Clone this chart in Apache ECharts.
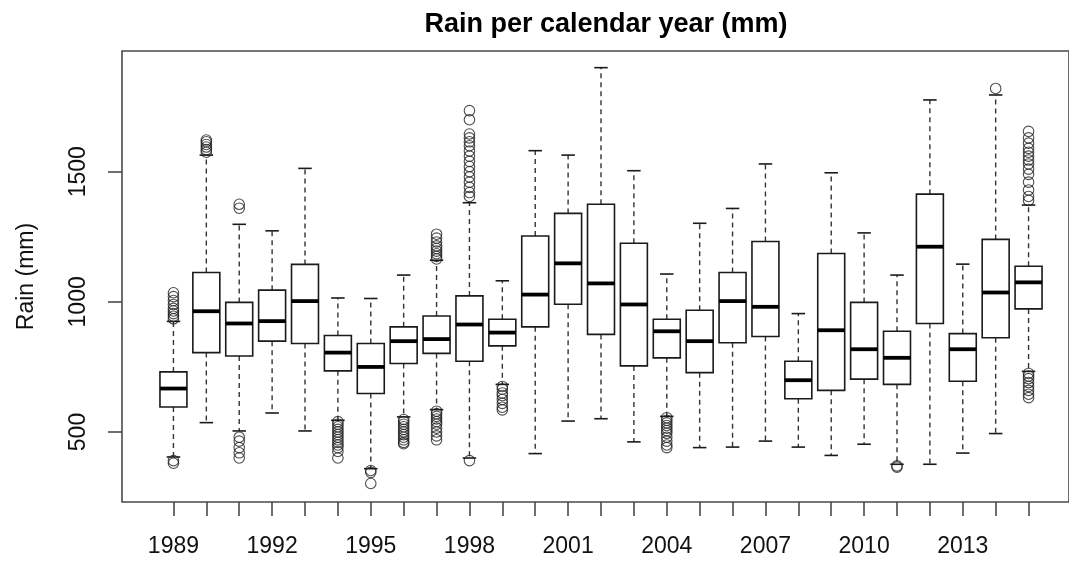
<!DOCTYPE html>
<html>
<head>
<meta charset="utf-8">
<script src="https://cdn.jsdelivr.net/npm/echarts@6/dist/echarts.min.js"></script>
<style>
  html, body { margin: 0; padding: 0; background: #fff; overflow: hidden; }
  #chart { width: 1069px; height: 565px; }
</style>
</head>
<body>
<div id="chart"></div>
<script>
// ---- data ----
const years = ['1989','1990','1991','1992','1993','1994','1995','1996','1997','1998','1999','2000','2001','2002','2003','2004','2005','2006','2007','2008','2009','2010','2011','2012','2013','2014','2015'];
const whiskerLow  = [404, 536, 504, 573, 504, 545, 359, 558, 586, 400, 683, 417, 542, 551, 462, 560, 440, 442, 465, 442, 410, 453, 376, 376, 419, 494, 733];
const q1          = [596, 805, 792, 849, 840, 735, 648, 763, 802, 772, 831, 904, 991, 875, 754, 785, 728, 843, 867, 628, 660, 703, 683, 917, 695, 862, 973];
const medians     = [667, 964, 917, 926, 1003, 805, 750, 849, 857, 913, 882, 1028, 1148, 1071, 990, 887, 849, 1003, 981, 699, 891, 818, 785, 1212, 818, 1036, 1075];
const q3          = [731, 1113, 998, 1045, 1144, 871, 840, 904, 946, 1023, 933, 1253, 1340, 1375, 1225, 933, 968, 1113, 1232, 772, 1186, 998, 887, 1414, 878, 1240, 1137];
const whiskerHigh = [925, 1564, 1298, 1273, 1513, 1015, 1013, 1103, 1160, 1381, 1081, 1581, 1564, 1900, 1504, 1107, 1302, 1359, 1530, 955, 1496, 1265, 1103, 1776, 1145, 1795, 1372];
const outlierYears = [
  '1989','1989','1989','1989','1989','1989','1989','1989','1989','1989','1989',
  '1990','1990','1990','1990','1990','1990',
  '1991','1991','1991','1991','1991','1991','1991',
  '1994','1994','1994','1994','1994','1994','1994','1994','1994','1994','1994','1994','1994',
  '1995','1995','1995',
  '1996','1996','1996','1996','1996','1996','1996','1996','1996','1996','1996',
  '1997','1997','1997','1997','1997','1997','1997','1997','1997',
  '1997','1997','1997','1997','1997','1997','1997','1997','1997','1997',
  '1998','1998','1998','1998','1998','1998','1998','1998','1998','1998','1998','1998','1998','1998','1998','1998','1998',
  '1999','1999','1999','1999','1999','1999','1999','1999',
  '2004','2004','2004','2004','2004','2004','2004','2004','2004','2004','2004',
  '2011','2011',
  '2014',
  '2015','2015','2015','2015','2015','2015','2015','2015','2015','2015','2015','2015','2015','2015',
  '2015','2015','2015','2015','2015','2015','2015','2015'
];
const outlierValues = [
  935, 945, 955, 965, 975, 990, 1005, 1020, 1035, 390, 380,
  1575, 1585, 1595, 1605, 1615, 1622,
  1360, 1375, 480, 465, 440, 420, 400,
  540, 530, 520, 510, 500, 490, 480, 470, 460, 450, 440, 425, 400,
  352, 345, 302,
  548, 540, 530, 520, 510, 500, 490, 480, 470, 460, 455,
  1165, 1175, 1185, 1195, 1205, 1215, 1230, 1245, 1260,
  580, 570, 560, 550, 540, 530, 515, 500, 485, 470,
  1405, 1420, 1440, 1460, 1480, 1500, 1520, 1540, 1560, 1580, 1600, 1615, 1630, 1645, 1700, 1735, 390,
  675, 665, 650, 640, 625, 610, 595, 585,
  555, 545, 535, 525, 515, 505, 495, 480, 465, 450, 440,
  370, 365,
  1820,
  1390, 1405, 1430, 1460, 1490, 1510, 1530, 1545, 1560, 1575, 1590, 1610, 1630, 1655,
  725, 715, 705, 690, 675, 660, 645, 632
];
const yTicks = [500, 1000, 1500];
const titleText = 'Rain per calendar year (mm)';
const yName = 'Rain (mm)';

// ---- build ----
const boxData = years.map((y, i) => [i, whiskerLow[i], q1[i], medians[i], q3[i], whiskerHigh[i]]);
const outlierData = outlierYears.map((y, i) => [y, outlierValues[i]]);
const Y_MIN = 231, Y_MAX = 1964;
const ink = '#1a1a1a';
const FONT = 'Liberation Sans, Arial, sans-serif';

function renderBox(params, api) {
  const idx = api.value(0);
  const pLo = api.coord([idx, api.value(1)]);
  const pQ1 = api.coord([idx, api.value(2)]);
  const pMed = api.coord([idx, api.value(3)]);
  const pQ3 = api.coord([idx, api.value(4)]);
  const pHi = api.coord([idx, api.value(5)]);
  const band = api.size([1, 0])[0];
  const bw = band * 0.82;
  const cw = bw * 0.5;
  const cx = pMed[0];
  const solid = { stroke: ink, lineWidth: 1.6, fill: null };
  const dashed = { stroke: '#333', lineWidth: 1.4, lineDash: [5, 4], fill: null };
  return {
    type: 'group',
    children: [
      { type: 'line', shape: { x1: cx, y1: pQ3[1], x2: cx, y2: pHi[1] }, style: dashed },
      { type: 'line', shape: { x1: cx, y1: pQ1[1], x2: cx, y2: pLo[1] }, style: dashed },
      { type: 'line', shape: { x1: cx - cw / 2, y1: pHi[1], x2: cx + cw / 2, y2: pHi[1] }, style: solid },
      { type: 'line', shape: { x1: cx - cw / 2, y1: pLo[1], x2: cx + cw / 2, y2: pLo[1] }, style: solid },
      { type: 'rect', shape: { x: cx - bw / 2, y: pQ3[1], width: bw, height: pQ1[1] - pQ3[1] }, style: solid },
      { type: 'line', shape: { x1: cx - bw / 2, y1: pMed[1], x2: cx + bw / 2, y2: pMed[1] }, style: { stroke: '#000', lineWidth: 3.8 } }
    ]
  };
}

const chart = echarts.init(document.getElementById('chart'), null, { renderer: 'canvas' });
chart.setOption({
  animation: false,
  backgroundColor: '#fff',
  title: {
    text: titleText,
    left: 601, top: 6, textAlign: 'center',
    textStyle: { fontFamily: FONT, fontSize: 27, fontWeight: 'bold', color: '#000' }
  },
  grid: [
    { left: 157, right: 24, top: 51, bottom: 63 },
    { left: 122, right: -80, top: 51, bottom: 63, show: true, borderColor: '#4a4a4a', borderWidth: 1.6, backgroundColor: 'transparent' }
  ],
  xAxis: [
    {
      type: 'category', gridIndex: 0, data: years, boundaryGap: true,
      axisLine: { show: false },
      axisTick: { show: true, interval: 0, alignWithLabel: true, length: 14, lineStyle: { color: '#4a4a4a', width: 1.6 } },
      axisLabel: { interval: 2, margin: 33, fontSize: 23, color: '#111', fontFamily: FONT },
      splitLine: { show: false }
    },
    { type: 'value', gridIndex: 1, min: 0, max: 1, show: false }
  ],
  yAxis: [
    { type: 'value', gridIndex: 0, min: Y_MIN, max: Y_MAX, show: false, splitLine: { show: false } },
    {
      type: 'value', gridIndex: 1, min: Y_MIN, max: Y_MAX,
      axisLine: { show: false },
      axisTick: { show: true, length: 14, customValues: yTicks, lineStyle: { color: '#4a4a4a', width: 1.6 } },
      axisLabel: { rotate: 90, customValues: yTicks, margin: 32, fontSize: 23, color: '#111', fontFamily: FONT,
                   formatter: v => String(v) },
      splitLine: { show: false },
      name: yName, nameLocation: 'middle', nameRotate: 90, nameGap: 84,
      nameTextStyle: { fontSize: 23, color: '#111', fontFamily: FONT }
    }
  ],
  series: [
    {
      type: 'custom', xAxisIndex: 0, yAxisIndex: 0,
      data: boxData,
      encode: { x: 0, y: [1, 2, 3, 4, 5] },
      renderItem: renderBox, z: 3
    },
    {
      type: 'scatter', xAxisIndex: 0, yAxisIndex: 0,
      data: outlierData,
      symbol: 'circle', symbolSize: 10.5,
      itemStyle: { color: 'rgba(255,255,255,0)', borderColor: '#222', borderWidth: 1.1 },
      z: 4
    }
  ]
});
</script>
</body>
</html>
